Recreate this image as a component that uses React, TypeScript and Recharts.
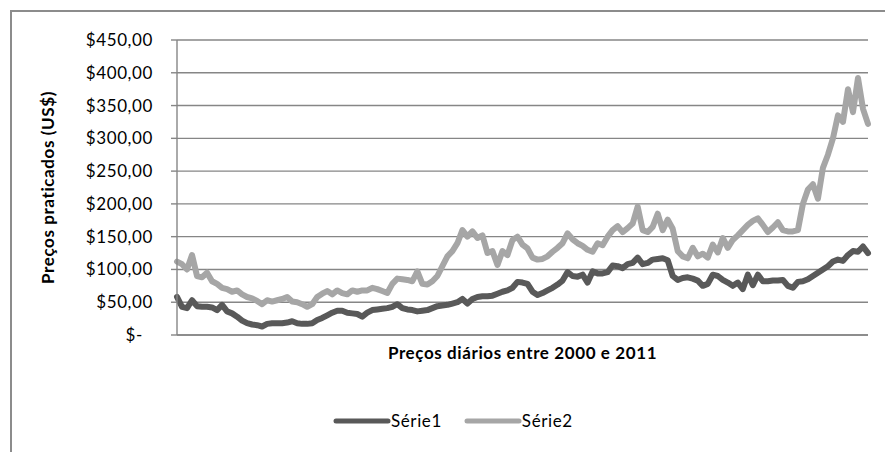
import { LineChart, Line, XAxis, YAxis, CartesianGrid, Legend } from "recharts";

// daily prices (one value per ~5px of the plot)
const serie1 = [
  58, 43, 41, 53, 44, 43, 43, 42, 38, 46,
  36, 33, 28, 22, 18, 16, 15, 13, 17, 18,
  18, 18, 19, 21, 18, 17, 17, 18, 23, 26,
  30, 34, 37, 37, 34, 33, 32, 28, 34, 38,
  39, 40, 41, 43, 47, 41, 39, 38, 36, 37,
  38, 41, 44, 45, 46, 48, 50, 55, 48, 55,
  58, 59, 59, 60, 63, 66, 68, 72, 81, 80,
  78, 66, 61, 64, 68, 72, 77, 83, 96, 90,
  89, 92, 80, 97, 94, 94, 96, 106, 105, 102,
  108, 110, 118, 108, 110, 115, 116, 117, 114, 90,
  84, 87, 88, 86, 83, 75, 78, 92, 90, 84,
  80, 75, 80, 70, 92, 76, 92, 82, 82, 83,
  83, 84, 75, 72, 81, 82, 85, 90, 95, 100,
  105, 112, 115, 113, 122, 128, 127, 135, 125,
];

const serie2 = [
  112, 108, 100, 122, 90, 88, 95, 82, 78, 72,
  70, 66, 68, 62, 58, 56, 52, 47, 53, 51,
  53, 55, 58, 51, 50, 47, 43, 47, 58, 63,
  67, 62, 68, 64, 62, 68, 66, 68, 68, 72,
  70, 67, 64, 78, 86, 85, 84, 82, 97, 78,
  77, 82, 90, 105, 120, 128, 140, 160, 150, 158,
  148, 152, 125, 128, 107, 128, 122, 145, 150, 138,
  132, 118, 115, 116, 120, 127, 133, 140, 155, 146,
  140, 136, 130, 127, 140, 137, 150, 160, 166, 157,
  163, 170, 196, 160, 157, 165, 185, 160, 176, 162,
  128, 120, 117, 133, 120, 124, 118, 138, 126, 148,
  133, 145, 152, 160, 168, 174, 178, 168, 157, 164,
  172, 160, 158, 158, 160, 200, 222, 230, 208, 255,
  275, 300, 335, 325, 375, 340, 392, 345, 322,
];

const yTicks = [0, 50, 100, 150, 200, 250, 300, 350, 400, 450];
const seriesNames = ["Série1", "Série2"];
const yTitle = "Preços praticados (US$)";
const xTitle = "Preços diários entre 2000 e 2011";

const data = serie1.map((v, i) => ({ dia: i, s1: v, s2: serie2[i] }));

const FONT = "Lato, 'Open Sans', sans-serif";
const GRID = "#868686";
const DARK = "#595959";
const LIGHT = "#a6a6a6";
const FS = 17;
const LS = 0.6;

const fmt = (v: number) => (v === 0 ? "$-" : `$${v},00`);

const YTick = ({ x, y, payload }: any) => (
  <text
    x={payload.value === 0 ? x - 10 : x}
    y={y}
    dy={6}
    textAnchor="end"
    fontSize={FS}
    letterSpacing={LS}
    fill="#000"
    fontFamily={FONT}
  >
    {fmt(payload.value)}
  </text>
);

const LegendBox = () => (
  <div style={{ display: "flex", alignItems: "center", fontFamily: FONT, fontSize: FS, letterSpacing: LS, color: "#000" }}>
    {seriesNames.map((name, i) => (
      <div key={name} style={{ display: "flex", alignItems: "center", marginRight: i === 0 ? 22 : 0 }}>
        <svg width={58} height={8}>
          <line x1={3} y1={4} x2={55} y2={4} stroke={i === 0 ? DARK : LIGHT} strokeWidth={5} strokeLinecap="round" />
        </svg>
        <span>{name}</span>
      </div>
    ))}
  </div>
);

export default function App() {
  return (
    <div style={{ position: "absolute", left: 0, top: 0, width: 885, height: 452, overflow: "hidden", background: "#fff" }}>
      <div
        style={{
          position: "absolute", left: 10, top: 10, width: 900, height: 460,
          borderTop: "2px solid #8c8c8c", borderLeft: "2px solid #8c8c8c",
        }}
      />
      <div style={{ position: "absolute", left: 0, top: 0 }}>
        <LineChart width={885} height={452} data={data} margin={{ top: 40, right: 17, bottom: 97, left: 117 }}>
          <CartesianGrid horizontal vertical={false} stroke={GRID} strokeWidth={1.4} />
          <XAxis
            dataKey="dia"
            height={20}
            tick={false}
            tickLine={false}
            axisLine={{ stroke: GRID, strokeWidth: 1.4 }}
            label={{
              content: ({ viewBox }: any) => (
                <text
                  x={viewBox.x + viewBox.width / 2}
                  y={viewBox.y + 24}
                  textAnchor="middle"
                  fontSize={FS}
                  fontWeight="bold"
                  letterSpacing={LS}
                  fontFamily={FONT}
                  fill="#000"
                >
                  {xTitle}
                </text>
              ),
            }}
          />
          <YAxis
            width={60}
            domain={[0, 450]}
            ticks={yTicks}
            interval={0}
            tickSize={6}
            tickMargin={18}
            tickLine={{ stroke: GRID, strokeWidth: 1.4 }}
            axisLine={{ stroke: GRID, strokeWidth: 1.4 }}
            tick={<YTick />}
            label={{
              content: ({ viewBox }: any) => {
                const cx = viewBox.x - 70;
                const cy = viewBox.y + viewBox.height / 2;
                return (
                  <text
                    x={cx}
                    y={cy}
                    transform={`rotate(-90 ${cx} ${cy})`}
                    textAnchor="middle"
                    dominantBaseline="central"
                    fontSize={FS}
                    fontWeight="bold"
                    letterSpacing={LS}
                    fontFamily={FONT}
                    fill="#000"
                  >
                    {yTitle}
                  </text>
                );
              },
            }}
          />
          <Legend
            layout="vertical"
            verticalAlign="middle"
            align="center"
            content={<LegendBox />}
            wrapperStyle={{ position: "absolute", left: 333, top: 410, width: "auto" }}
          />
          <Line type="linear" dataKey="s1" name={seriesNames[0]} stroke={DARK} strokeWidth={6}
            strokeLinejoin="round" strokeLinecap="round" dot={false} isAnimationActive={false} />
          <Line type="linear" dataKey="s2" name={seriesNames[1]} stroke={LIGHT} strokeWidth={6}
            strokeLinejoin="round" strokeLinecap="round" dot={false} isAnimationActive={false} />
        </LineChart>
      </div>
    </div>
  );
}
